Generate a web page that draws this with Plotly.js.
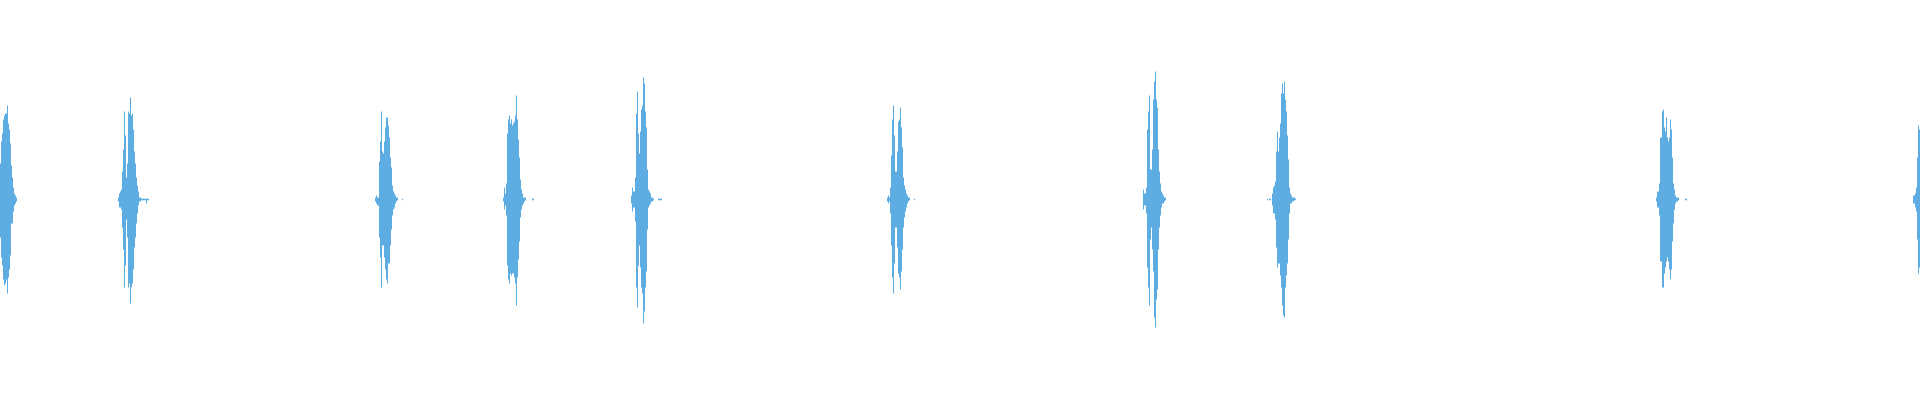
<!DOCTYPE html>
<html>
<head>
<meta charset="utf-8">
<script src="https://cdn.plot.ly/plotly-3.0.1.min.js"></script>
<style>html,body{margin:0;padding:0;background:#fff;}#chart{width:1920px;height:400px;}</style>
</head>
<body>
<div id="chart"></div>
<script>
// Waveform envelope: per display bin, the max and min sample amplitude of each burst.
// burstStart = first bin index of each burst.
const burstStart = [0, 118, 375, 503, 631, 887, 1143, 1267, 1656, 1913];

const burst1Max = [0.18,0.29,0.33,0.40,0.42,0.43,0.43,0.47,0.38,0.35,0.28,0.17,0.11,0.06,0.03,0.02,0.01];
const burst1Min = [-0.19,-0.29,-0.33,-0.40,-0.43,-0.42,-0.40,-0.47,-0.39,-0.35,-0.28,-0.12,-0.12,-0.06,-0.03,-0.02,-0.01];

const burst2Max = [0.01,0.03,0.04,0.05,0.14,0.25,0.44,0.32,0.11,0.18,0.44,0.43,0.51,0.42,0.43,0.35,0.24,0.18,0.11,0.07,0.04,0.01,0.01,0.004,0.004,0.004,0.004,0.004,0.004,0.004,0.004];
const burst2Min = [-0.01,-0.04,-0.04,-0.05,-0.14,-0.25,-0.44,-0.33,-0.10,-0.19,-0.44,-0.42,-0.52,-0.44,-0.42,-0.35,-0.24,-0.19,-0.12,-0.07,-0.03,-0.01,-0.01,-0.004,-0.004,-0.004,-0.004,-0.004,-0.02,-0.004,-0.004];

const burst3Max = [0.01,0.02,0.01,0.01,0.19,0.29,0.44,0.24,0.23,0.29,0.36,0.41,0.41,0.37,0.31,0.21,0.16,0.07,0.04,0.03,0.02,0.01,0.01,0,0,0,0,0.004];
const burst3Min = [-0.01,-0.02,-0.03,-0.03,-0.19,-0.29,-0.44,-0.23,-0.23,-0.29,-0.35,-0.40,-0.42,-0.32,-0.32,-0.23,-0.15,-0.08,-0.05,-0.04,-0.02,-0.01,-0.004,0,0,0,0,-0.004];

const burst4Max = [0.01,0.06,0.03,0.08,0.33,0.40,0.42,0.38,0.40,0.37,0.38,0.39,0.42,0.52,0.40,0.30,0.21,0.10,0.05,0.03,0.01,0.01,0.01,0,0,0,0,0,0,0.004,0.004];
const burst4Min = [-0.01,-0.05,-0.03,-0.08,-0.33,-0.40,-0.42,-0.37,-0.38,-0.37,-0.37,-0.39,-0.42,-0.53,-0.39,-0.30,-0.21,-0.09,-0.05,-0.03,-0.02,-0.01,-0.004,0,0,0,0,0,0,-0.004,-0.004];

const burst5Max = [0.02,0.06,0.04,0.04,0.11,0.43,0.54,0.33,0.23,0.34,0.45,0.47,0.61,0.58,0.44,0.36,0.15,0.05,0.04,0.03,0.01,0.01,0.004,0,0,0,0,0.004,0.004,0.004,0.004];
const burst5Min = [-0.02,-0.06,-0.04,-0.04,-0.11,-0.44,-0.54,-0.33,-0.23,-0.34,-0.44,-0.47,-0.62,-0.56,-0.44,-0.36,-0.15,-0.04,-0.03,-0.02,-0.01,-0.01,-0.004,0,0,0,0,-0.004,-0.004,-0.004,-0.004];

const burst6Max = [0.01,0.02,0.01,0.06,0.22,0.40,0.47,0.32,0.14,0.14,0.24,0.39,0.40,0.46,0.36,0.26,0.11,0.07,0.05,0.03,0.02,0.01,0.01,0,0,0,0,0.004];
const burst6Min = [-0.01,-0.02,-0.01,-0.07,-0.23,-0.39,-0.47,-0.32,-0.14,-0.14,-0.24,-0.37,-0.39,-0.45,-0.36,-0.25,-0.14,-0.09,-0.06,-0.04,-0.02,-0.01,-0.004,0,0,0,0,-0.004];

const burst7Max = [0.05,0.03,0.03,0.06,0.35,0.44,0.52,0.15,0.15,0.25,0.50,0.59,0.64,0.50,0.46,0.25,0.14,0.08,0.04,0.03,0.02,0.01,0.01];
const burst7Min = [-0.05,-0.03,-0.03,-0.07,-0.34,-0.44,-0.53,-0.20,-0.14,-0.25,-0.36,-0.59,-0.64,-0.50,-0.45,-0.25,-0.14,-0.08,-0.04,-0.02,-0.02,-0.01,-0.004];

const burst8Max = [0.004,0,0.004,0.004,0,0.03,0.06,0.07,0.09,0.24,0.34,0.24,0.31,0.38,0.53,0.58,0.53,0.59,0.50,0.44,0.32,0.20,0.06,0.03,0.02,0.01,0.01,0.01,0.004];
const burst8Min = [-0.004,0,-0.004,-0.004,0,-0.03,-0.07,-0.07,-0.10,-0.24,-0.34,-0.32,-0.32,-0.38,-0.44,-0.53,-0.58,-0.59,-0.44,-0.38,-0.32,-0.20,-0.07,-0.02,-0.02,-0.01,-0.01,-0.004,-0.004];

const burst9Max = [0.01,0.04,0.04,0.08,0.31,0.31,0.44,0.45,0.36,0.34,0.41,0.31,0.29,0.31,0.40,0.35,0.21,0.08,0.05,0.02,0.01,0.01,0.01,0,0,0,0,0,0,0.004,0.004];
const burst9Min = [-0.01,-0.04,-0.04,-0.08,-0.31,-0.31,-0.44,-0.44,-0.37,-0.34,-0.31,-0.29,-0.31,-0.35,-0.40,-0.35,-0.21,-0.12,-0.05,-0.02,-0.01,-0.01,-0.004,0,0,0,0,0,0,-0.004,-0.004];

const burst10Max = [0.02,0.02,0.03,0.06,0.21,0.37,0.35];
const burst10Min = [-0.02,-0.02,-0.04,-0.06,-0.20,-0.37,-0.34];

const burstMax = [burst1Max,burst2Max,burst3Max,burst4Max,burst5Max,burst6Max,burst7Max,burst8Max,burst9Max,burst10Max];
const burstMin = [burst1Min,burst2Min,burst3Min,burst4Min,burst5Min,burst6Min,burst7Min,burst8Min,burst9Min,burst10Min];

// Build vertical min-max segments per bin
const xs = [], ys = [];
burstStart.forEach((s, b) => {
  const mx = burstMax[b], mn = burstMin[b];
  for (let j = 0; j < mx.length; j++) {
    if (mx[j] === 0 && mn[j] === 0) continue;
    const x = s + j + 0.5;
    xs.push(x, x, null);
    ys.push(mx[j], mn[j], null);
  }
});

const trace = {
  x: xs, y: ys, type: 'scatter', mode: 'lines',
  line: {color: '#5DADE2', width: 1},
  connectgaps: false, hoverinfo: 'skip'
};

const layout = {
  width: 1920, height: 400,
  margin: {l: 0, r: 0, t: 0, b: 0, pad: 0},
  paper_bgcolor: '#ffffff', plot_bgcolor: '#ffffff',
  showlegend: false,
  xaxis: {range: [0, 1920], visible: false, fixedrange: true},
  yaxis: {range: [-1.0025, 0.9975], visible: false, fixedrange: true}
};

Plotly.newPlot('chart', [trace], layout, {displayModeBar: false, staticPlot: true});
</script>
</body>
</html>
